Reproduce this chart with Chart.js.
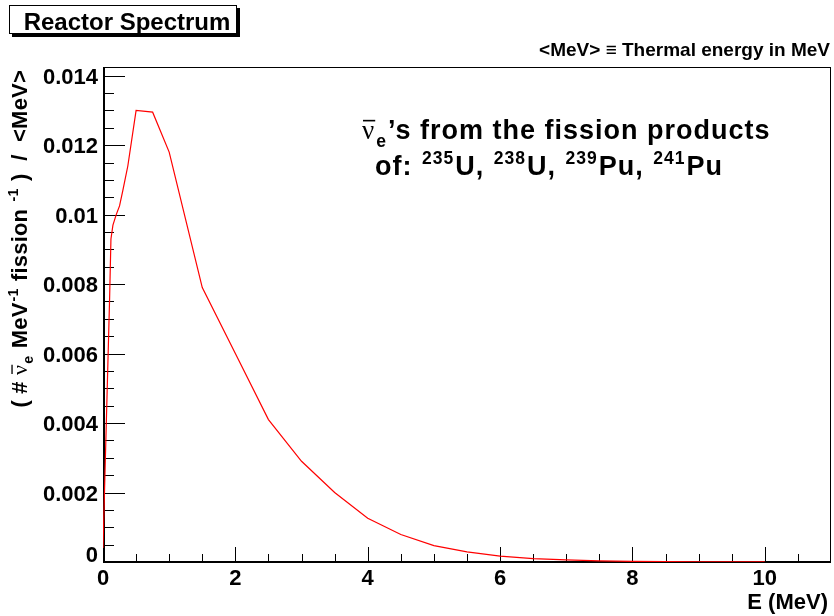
<!DOCTYPE html>
<html><head><meta charset="utf-8">
<script src="https://cdn.jsdelivr.net/npm/chart.js@4/dist/chart.umd.min.js"></script>
<style>html,body{margin:0;padding:0;background:#fff}#wrap{width:834px;height:616px;position:relative}</style>
</head><body><div id="wrap"><canvas id="c"></canvas></div>
<script>
// ---- data ----
const energyMeV = [0, 0.1, 0.12, 0.15, 0.2, 0.25, 0.3, 0.375, 0.5, 0.75, 1.0, 1.5, 2.0, 2.5, 3.0, 3.5, 4.0, 4.5, 5.0, 5.5, 6.0, 6.5, 7.0, 7.5, 8.0, 8.5, 9.0, 9.5, 10.0];
const spectrum  = [0.0004, 0.0076, 0.0093, 0.0097, 0.0100, 0.01025, 0.0107, 0.0114, 0.0130, 0.01295, 0.0118, 0.0079, 0.0060, 0.0041, 0.0029, 0.0020, 0.00126, 0.00079, 0.00047, 0.00029, 0.00017, 0.0001, 0.00006, 0.000035, 0.00002, 0.00001, 0.000006, 0.000003, 0.000001];
const xTickValues = [0, 2, 4, 6, 8, 10];
const yTickValues = [0, 0.002, 0.004, 0.006, 0.008, 0.010, 0.012, 0.014];
const xRange = [0, 11];
const yRange = [0, 0.01425];
const chartTitle = 'Reactor Spectrum';
const unitNote = '<MeV> \u2261 Thermal energy in MeV';
const xAxisTitle = 'E (MeV)';
const noteLine1 = [{t:'\u03bd', bar:true, w:'normal', f:'"Liberation Serif"'}, {t:'e', sub:true}, {t:'\u2019s from the fission products'}];
const noteLine2 = [{t:'of: '}, {t:'235', sup:true}, {t:'U, '}, {t:'238', sup:true}, {t:'U, '}, {t:'239', sup:true}, {t:'Pu, '}, {t:'241', sup:true}, {t:'Pu'}];
const yAxisTitle = [{t:'( # '}, {t:'\u03bd', bar:true, w:'normal', f:'"Liberation Serif"'}, {t:'e', sub:true}, {t:' MeV'}, {t:'-1', sup:true}, {t:' fission '}, {t:'-1', sup:true}, {t:' )  /  <MeV>'}];

const FONT = '"Liberation Sans", Arial, sans-serif';

function segFont(s, size){
  const sz = (s.sup || s.sub) ? size*0.65 : size;
  return (s.w || 'bold') + ' ' + sz + 'px ' + (s.f || FONT);
}
function richWidth(ctx, segs, size){
  let w = 0;
  for (const s of segs){ ctx.font = segFont(s, size); w += ctx.measureText(s.t).width + ((s.sup||s.sub)?2:0); }
  return w;
}
function drawRich(ctx, segs, x, y, size){
  ctx.textBaseline = 'alphabetic'; ctx.textAlign = 'left';
  for (const s of segs){
    ctx.font = segFont(s, size);
    const dy = s.sup ? -size*0.42 : (s.sub ? size*0.28 : 0);
    const w = ctx.measureText(s.t).width;
    ctx.fillText(s.t, x + ((s.sup||s.sub)?1:0), y + dy);
    if (s.bar){
      ctx.save(); ctx.lineWidth = Math.max(1, size*0.06); ctx.strokeStyle = '#000';
      ctx.beginPath(); ctx.moveTo(x+1, y - size*0.68); ctx.lineTo(x + w, y - size*0.68); ctx.stroke(); ctx.restore();
    }
    x += w + ((s.sup||s.sub)?2:0);
  }
  return x;
}
const fmtY = v => String(Number(v.toFixed(4)));

const rootFrame = {
  id: 'rootFrame',
  beforeDatasetsDraw(chart){
    const ctx = chart.ctx, a = chart.chartArea;
    const xs = chart.scales.x, ys = chart.scales.y;
    ctx.save();
    ctx.strokeStyle = '#000';
    ctx.lineWidth = 1;
    ctx.strokeRect(Math.round(a.left)+0.5, Math.round(a.top)+0.5, Math.round(a.right-a.left)-1, Math.round(a.bottom-a.top)-1);
    ctx.beginPath();
    const yStep = yTickValues[1]-yTickValues[0];
    for (let i = 0; i < yTickValues.length; i++){
      const v = yTickValues[i];
      const py = Math.round(ys.getPixelForValue(v)) + 0.5;
      ctx.moveTo(a.left, py); ctx.lineTo(a.left + 22, py);
      for (let k = 1; k < 4; k++){
        const mv = v + k*yStep/4;
        if (mv > ys.max) break;
        const mp = Math.round(ys.getPixelForValue(mv)) + 0.5;
        ctx.moveTo(a.left, mp); ctx.lineTo(a.left + 11, mp);
      }
    }
    const xStep = xTickValues[1]-xTickValues[0];
    for (let i = 0; i < xTickValues.length; i++){
      const v = xTickValues[i];
      const px = Math.round(xs.getPixelForValue(v)) + 0.5;
      ctx.moveTo(px, a.bottom); ctx.lineTo(px, a.bottom - 15);
      for (let k = 1; k < 4; k++){
        const mv = v + k*xStep/4;
        if (mv >= xs.max) break;
        const mp = Math.round(xs.getPixelForValue(mv)) + 0.5;
        ctx.moveTo(mp, a.bottom); ctx.lineTo(mp, a.bottom - 8);
      }
    }
    ctx.stroke();
    ctx.lineWidth = 2;
    ctx.beginPath();
    ctx.moveTo(Math.round(a.left)+1, a.top); ctx.lineTo(Math.round(a.left)+1, Math.round(a.bottom));
    ctx.lineTo(a.right, Math.round(a.bottom));
    ctx.stroke();
    ctx.restore();
  },
  afterDraw(chart){
    const ctx = chart.ctx, a = chart.chartArea, ys = chart.scales.y;
    ctx.save();
    ctx.fillStyle = '#000';
    // lowest y label, lifted above the x axis as in the reference
    ctx.font = 'bold 22px ' + FONT;
    ctx.textAlign = 'right'; ctx.textBaseline = 'middle';
    ctx.fillText(fmtY(yTickValues[0]), ys.right - 5, ys.getPixelForValue(yTickValues[0]) - 6);
    // title box with shadow
    ctx.fillRect(12, 8, 228, 29);
    ctx.fillStyle = '#fff';
    ctx.fillRect(9, 5, 228, 29);
    ctx.strokeStyle = '#000'; ctx.lineWidth = 1;
    ctx.strokeRect(9.5, 5.5, 227, 28);
    ctx.fillStyle = '#000';
    ctx.font = 'bold 24px ' + FONT;
    ctx.textAlign = 'center'; ctx.textBaseline = 'alphabetic';
    ctx.fillText(chartTitle, 127, 30);
    ctx.font = 'bold 19px ' + FONT;
    ctx.textAlign = 'right';
    ctx.fillText(unitNote, 830, 56);
    ctx.font = 'bold 22px ' + FONT;
    ctx.fillText(xAxisTitle, 828, 609);
    ctx.letterSpacing = '1px';
    drawRich(ctx, noteLine1, 362, 139, 27);
    drawRich(ctx, noteLine2, 375, 175, 27);
    ctx.letterSpacing = '0.2px';
    const size = 22;
    const w = richWidth(ctx, yAxisTitle, size);
    ctx.translate(27, 70 + w);
    ctx.rotate(-Math.PI/2);
    drawRich(ctx, yAxisTitle, 0, 0, size);
    ctx.restore();
  }
};

const points = energyMeV.map((e, i) => ({x: e, y: spectrum[i]}));

new Chart(document.getElementById('c'), {
  type: 'line',
  data: { datasets: [{ data: points, borderColor: '#ff0000', borderWidth: 1.2, pointRadius: 0, tension: 0, fill: false }] },
  options: {
    responsive: true, maintainAspectRatio: false, animation: false,
    layout: { padding: { left: 0, top: 67, right: 3, bottom: 0 } },
    plugins: { legend: { display: false }, tooltip: { enabled: false }, title: { display: false } },
    scales: {
      x: {
        type: 'linear', min: xRange[0], max: xRange[1],
        grid: { display: false, drawTicks: false }, border: { display: false },
        afterBuildTicks: s => { s.ticks = xTickValues.map(v => ({value: v})); },
        afterFit: s => { s.height = 54; },
        ticks: { color: '#000', font: { family: FONT, size: 22, weight: 'bold' }, padding: 4, maxRotation: 0, autoSkip: false,
                 callback: v => String(v) }
      },
      y: {
        type: 'linear', min: yRange[0], max: yRange[1],
        grid: { display: false, drawTicks: false }, border: { display: false },
        afterBuildTicks: s => { s.ticks = yTickValues.map(v => ({value: v})); },
        afterFit: s => { s.width = 103; },
        ticks: { color: '#000', font: { family: FONT, size: 22, weight: 'bold' }, padding: 5, autoSkip: false, labelOffset: 2,
                 callback: v => (v === yTickValues[0] ? '' : fmtY(v)) }
      }
    }
  },
  plugins: [rootFrame]
});
</script></body></html>
